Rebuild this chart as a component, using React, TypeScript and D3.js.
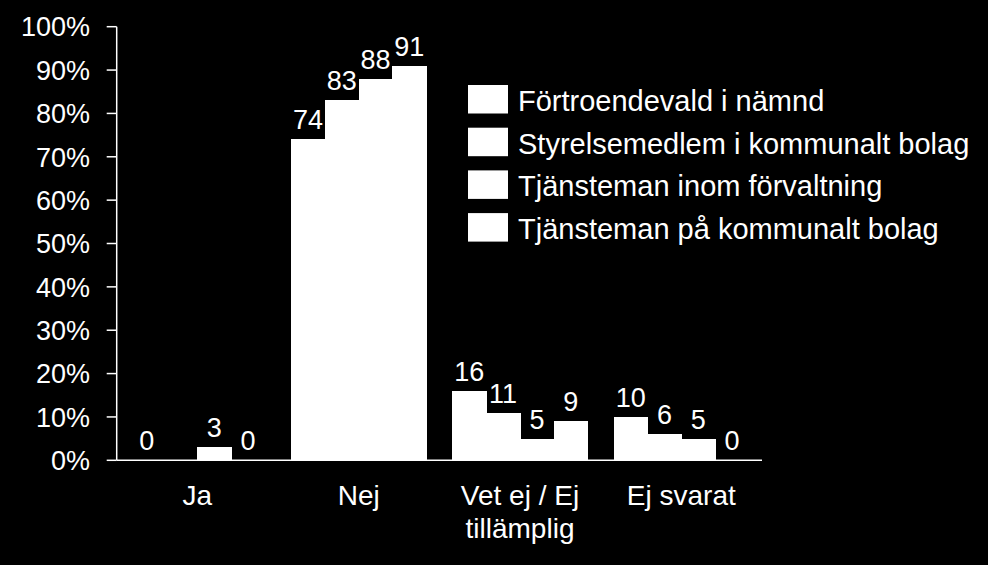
import React from "react";
import * as d3 from "d3";

const categories: string[][] = [["Ja"], ["Nej"], ["Vet ej / Ej", "tillämplig"], ["Ej svarat"]];
const seriesNames = [
  "Förtroendevald i nämnd",
  "Styrelsemedlem i kommunalt bolag",
  "Tjänsteman inom förvaltning",
  "Tjänsteman på kommunalt bolag",
];
const s1: (number | null)[] = [0, 74, 16, 10];
const s2: (number | null)[] = [null, 83, 11, 6];
const s3: (number | null)[] = [3, 88, 5, 5];
const s4: (number | null)[] = [0, 91, 9, 0];
const yTicks = [0, 10, 20, 30, 40, 50, 60, 70, 80, 90, 100];

const W = 988;
const H = 565;
const FONT = "'Liberation Sans', Arial, sans-serif";

export default function App() {
  const series = [s1, s2, s3, s4];
  const left = 116.7;
  const right = 762;
  const top = 26.7;
  const bottom = 460.3;

  const y = d3.scaleLinear().domain([0, 100]).range([bottom, top]);
  const x0 = d3
    .scaleBand<number>()
    .domain(categories.map((_, i) => i))
    .range([left, right])
    .paddingInner(0.163)
    .paddingOuter(0.0815);
  const x1 = d3
    .scaleBand<number>()
    .domain(series.map((_, i) => i))
    .range([0, x0.bandwidth()]);

  return (
    <div style={{ position: "fixed", left: 0, top: 0, width: W, height: H, background: "#000" }}>
      <svg width={W} height={H} style={{ display: "block" }}>
        <rect x={0} y={0} width={W} height={H} fill="#000" />
        {/* bars */}
        {categories.map((_, ci) =>
          series.map((s, si) => {
            const v = s[ci];
            if (v === null) return null;
            const bx = (x0(ci) as number) + (x1(si) as number);
            const bw = x1.bandwidth();
            return (
              <g key={`b${ci}-${si}`}>
                <rect
                  x={bx}
                  y={y(v)}
                  width={bw + 0.8}
                  height={bottom - y(v)}
                  fill="#fff"
                  shapeRendering="crispEdges"
                />
                <text
                  x={bx + bw / 2}
                  y={y(v) - 10}
                  fill="#fff"
                  fontFamily={FONT}
                  fontSize={27}
                  textAnchor="middle"
                >
                  {v}
                </text>
              </g>
            );
          })
        )}
        {/* y axis */}
        <line x1={left} x2={left} y1={top} y2={bottom} stroke="#fff" strokeWidth={1.5} />
        {yTicks.map((t) => (
          <g key={`t${t}`}>
            <line x1={left - 10} x2={left} y1={y(t)} y2={y(t)} stroke="#fff" strokeWidth={1.5} />
            <text
              x={90}
              y={y(t)}
              dy="0.36em"
              fill="#fff"
              fontFamily={FONT}
              fontSize={27}
              textAnchor="end"
            >
              {t}%
            </text>
          </g>
        ))}
        {/* x axis */}
        <line x1={left} x2={right} y1={bottom} y2={bottom} stroke="#fff" strokeWidth={1.5} />
        {categories.map((lines, ci) => (
          <text
            key={`c${ci}`}
            x={(x0(ci) as number) + x0.bandwidth() / 2}
            y={505}
            fill="#fff"
            fontFamily={FONT}
            fontSize={28}
            textAnchor="middle"
          >
            {lines.map((l, li) => (
              <tspan key={li} x={(x0(ci) as number) + x0.bandwidth() / 2} dy={li === 0 ? 0 : 33}>
                {l}
              </tspan>
            ))}
          </text>
        ))}
        {/* legend */}
        {seriesNames.map((n, i) => (
          <g key={`l${i}`} transform={`translate(468, ${85 + i * 42.7})`}>
            <rect x={0} y={0} width={40} height={28.5} fill="#fff" />
            <text x={50} y={26} fill="#fff" fontFamily={FONT} fontSize={29}>
              {n}
            </text>
          </g>
        ))}
      </svg>
    </div>
  );
}
